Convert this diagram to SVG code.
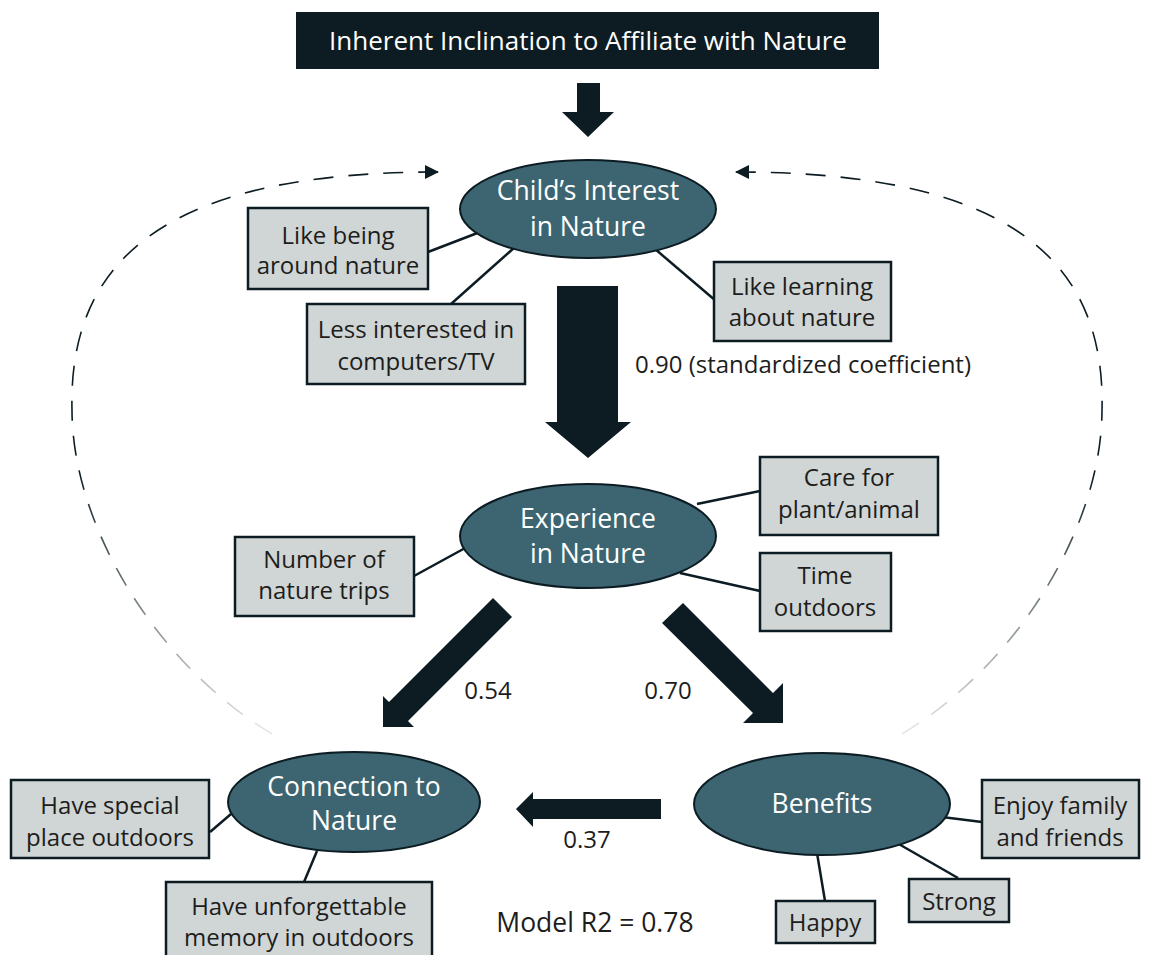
<svg xmlns="http://www.w3.org/2000/svg" width="1149" height="955" viewBox="0 0 1149 955">
  <style>
    .lbl { font-family: "Open Sans", "Noto Sans", "DejaVu Sans", sans-serif; font-size: 24px; fill: #1d1d1b; text-anchor: middle; }
    .note { font-size: 26.5px; }
    .oval-text { font-family: "Open Sans", "Noto Sans", "DejaVu Sans", sans-serif; font-size: 26.5px; fill: #ffffff; text-anchor: middle; }
    .title { font-family: "Open Sans", "Noto Sans", "DejaVu Sans", sans-serif; font-size: 26px; fill: #ffffff; text-anchor: middle; }
    .box { fill: #d0d5d6; stroke: #0c1c22; stroke-width: 2.5; }
    .oval { fill: #3c6571; stroke: #0c1c22; stroke-width: 2; }
    .link { stroke: #0c1c22; stroke-width: 2.5; fill: none; }
    .block { fill: #0c1c22; }
    .loop { fill: none; stroke: url(#fade); stroke-width: 1.6; stroke-dasharray: 20 15; }
  </style>
  <defs>
    <linearGradient id="fade" gradientUnits="userSpaceOnUse" x1="0" y1="470" x2="0" y2="740">
      <stop offset="0" stop-color="#0c1c22" stop-opacity="1"/>
      <stop offset="1" stop-color="#0c1c22" stop-opacity="0.08"/>
    </linearGradient>
    <marker id="tip" viewBox="0 0 14 14" refX="13" refY="7" markerWidth="14" markerHeight="14" markerUnits="userSpaceOnUse" orient="auto">
      <path d="M0,0 L14,7 L0,14 Z" fill="#0c1c22"/>
    </marker>
  </defs>

  <!-- feedback loops (dashed) -->
  <g id="connectors">
    <path class="loop" d="M272,734 C150,660 72,520 72,410 C68,250 180,172 438,172" marker-end="url(#tip)"/>
    <path class="loop" d="M902,734 C1024,660 1102,520 1102,410 C1106,250 994,172 736,172" marker-end="url(#tip)"/>

    <!-- indicator links -->
    <line class="link" x1="428" y1="252" x2="480" y2="232"/>
    <line class="link" x1="451" y1="304" x2="515" y2="247"/>
    <line class="link" x1="716" y1="301" x2="655" y2="249"/>
    <line class="link" x1="760" y1="491" x2="697" y2="504"/>
    <line class="link" x1="414" y1="576" x2="467" y2="547"/>
    <line class="link" x1="760" y1="591" x2="680" y2="573"/>
    <line class="link" x1="210" y1="832" x2="231" y2="814"/>
    <line class="link" x1="304" y1="882" x2="317" y2="851"/>
    <line class="link" x1="942" y1="817" x2="982" y2="822"/>
    <line class="link" x1="897" y1="843" x2="958" y2="878"/>
    <line class="link" x1="817" y1="853" x2="825" y2="901"/>

    <!-- path arrows -->
    <polygon class="block" points="577,83 600,83 600,112 614,112 588,137 562,112 577,112"/>
    <polygon class="block" points="557,286 618,286 618,422 631,422 588,458 545,422 557,422"/>
    <polygon class="block" points="493,598 512,617 408,721 414,727 383,727 383,696 389,702"/>
    <polygon class="block" points="662,623 683,603 773,693 783,683 783,723 743,723 753,713"/>
    <polygon class="block" points="661,799 661,819 533,819 533,827 516,809 533,792 533,799"/>
  </g>

  <g id="source">
    <rect x="296" y="12" width="583" height="57" fill="#0c1c22"/>
    <text class="title" x="588" y="50">Inherent Inclination to Affiliate with Nature</text>
  </g>

  <g id="interest">
    <ellipse class="oval" cx="588" cy="209" rx="128" ry="49"/>
    <text class="oval-text" x="588" y="200">Child’s Interest</text>
    <text class="oval-text" x="588" y="236">in Nature</text>
  </g>
  <g id="like-being">
    <rect class="box" x="248" y="208" width="180" height="81"/>
    <text class="lbl" x="338" y="244">Like being</text>
    <text class="lbl" x="338" y="274">around nature</text>
  </g>
  <g id="less-interested">
    <rect class="box" x="307" y="304" width="218" height="80"/>
    <text class="lbl" x="416" y="338">Less interested in</text>
    <text class="lbl" x="416" y="370">computers/TV</text>
  </g>
  <g id="like-learning">
    <rect class="box" x="714" y="262" width="177" height="79"/>
    <text class="lbl" x="802" y="295">Like learning</text>
    <text class="lbl" x="802" y="326">about nature</text>
  </g>
  <g id="coef-090">
    <text class="lbl" x="803" y="373">0.90 (standardized coefficient)</text>
  </g>

  <g id="experience">
    <ellipse class="oval" cx="588" cy="536" rx="128" ry="52"/>
    <text class="oval-text" x="588" y="528">Experience</text>
    <text class="oval-text" x="588" y="563">in Nature</text>
  </g>
  <g id="care">
    <rect class="box" x="760" y="457" width="178" height="78"/>
    <text class="lbl" x="849" y="486">Care for</text>
    <text class="lbl" x="849" y="518">plant/animal</text>
  </g>
  <g id="trips">
    <rect class="box" x="235" y="537" width="179" height="79"/>
    <text class="lbl" x="324" y="568">Number of</text>
    <text class="lbl" x="324" y="599">nature trips</text>
  </g>
  <g id="time">
    <rect class="box" x="760" y="553" width="131" height="78"/>
    <text class="lbl" x="825" y="584">Time</text>
    <text class="lbl" x="825" y="616">outdoors</text>
  </g>
  <g id="coef-054"><text class="lbl" x="488" y="699">0.54</text></g>
  <g id="coef-070"><text class="lbl" x="668" y="699">0.70</text></g>

  <g id="connection">
    <ellipse class="oval" cx="354" cy="802" rx="126" ry="50"/>
    <text class="oval-text" x="354" y="796">Connection to</text>
    <text class="oval-text" x="354" y="830">Nature</text>
  </g>
  <g id="special-place">
    <rect class="box" x="11" y="780" width="198" height="78"/>
    <text class="lbl" x="110" y="814">Have special</text>
    <text class="lbl" x="110" y="846">place outdoors</text>
  </g>
  <g id="memory">
    <rect class="box" x="166" y="882" width="266" height="80"/>
    <text class="lbl" x="299" y="915">Have unforgettable</text>
    <text class="lbl" x="299" y="946">memory in outdoors</text>
  </g>
  <g id="coef-037"><text class="lbl" x="587" y="848">0.37</text></g>

  <g id="benefits">
    <ellipse class="oval" cx="822" cy="804" rx="128" ry="51"/>
    <text class="oval-text" x="822" y="813">Benefits</text>
  </g>
  <g id="family">
    <rect class="box" x="982" y="780" width="157" height="78"/>
    <text class="lbl" x="1060" y="814">Enjoy family</text>
    <text class="lbl" x="1060" y="846">and friends</text>
  </g>
  <g id="strong">
    <rect class="box" x="909" y="879" width="100" height="43"/>
    <text class="lbl" x="959" y="910">Strong</text>
  </g>
  <g id="happy">
    <rect class="box" x="776" y="901" width="99" height="42"/>
    <text class="lbl" x="825" y="931">Happy</text>
  </g>

  <g id="fit-note"><text class="lbl note" x="595" y="932">Model R2 = 0.78</text></g>
</svg>
